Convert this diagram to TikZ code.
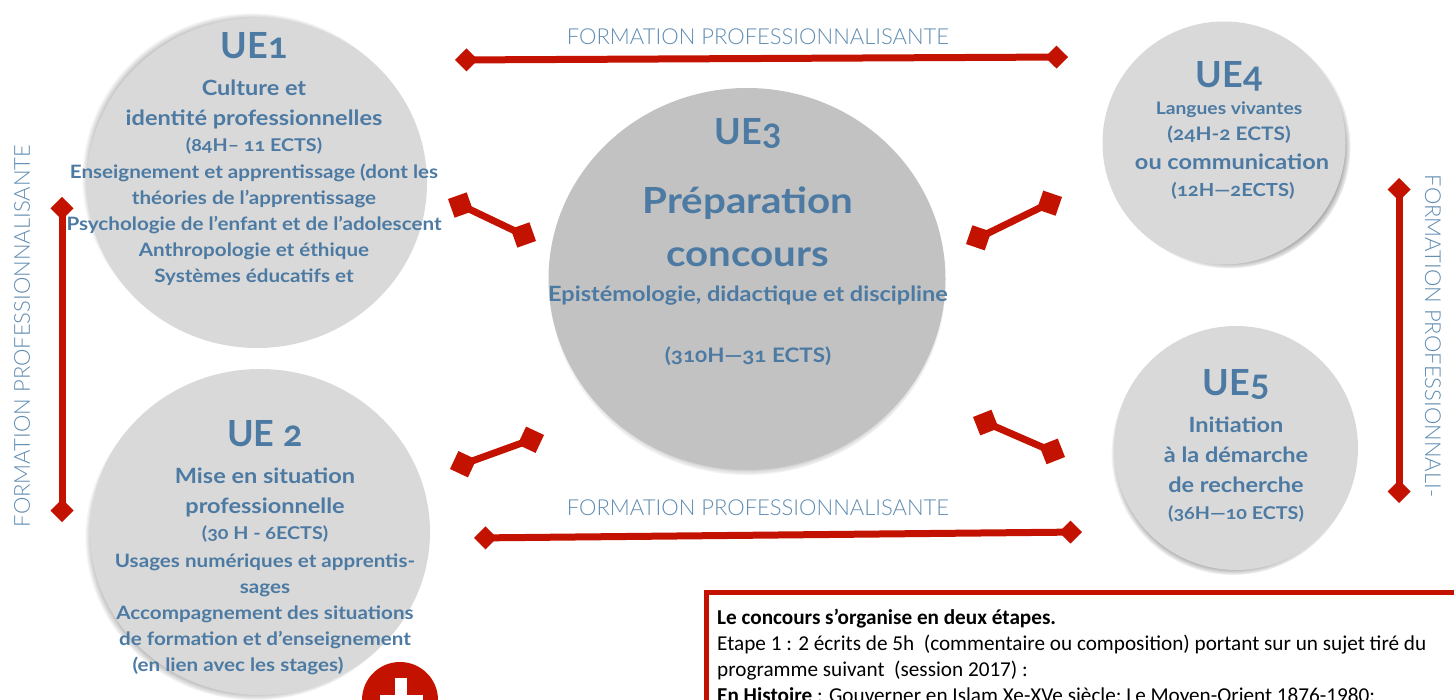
\documentclass[tikz,border=0pt]{standalone}
\usepackage{fontspec}
\setmainfont{Lato}[Numbers=OldStyle, FakeStretch=1.12]
\newfontfamily\titlefont{Lato}[Numbers=OldStyle]
\newfontfamily\boxfont{Carlito}
\newfontfamily\thinfont{Lato Light}
\usetikzlibrary{arrows.meta, shapes.geometric, shadows, fadings}
\definecolor{uered}{HTML}{C41200}
\definecolor{ueblue}{HTML}{4C7AA3}
\definecolor{uethin}{HTML}{5F8BB0}
\tikzset{
    uedisc/.style={ellipse, inner sep=0pt, fill=#1},
    uedisc/.default={black!15},
    softshadow/.style 2 args={general shadow={fill=black!85, shadow scale=1, shadow xshift=#1, shadow yshift=#2, path fading=circle with fuzzy edge 15 percent}},
    uetitle/.style={text=ueblue, font=\titlefont\bfseries\fontsize{36}{36}\selectfont},
    uehead/.style={text=ueblue, align=center, font=\bfseries\fontsize{21}{30}\selectfont},
    uehours/.style={text=ueblue, align=center, font=\bfseries\fontsize{17.6}{26}\selectfont},
    uebody/.style={text=ueblue, align=center, font=\bfseries\fontsize{18.4}{26}\selectfont},
    thinlabel/.style={text=uethin, font=\thinfont\fontsize{22}{22}\selectfont},
    redlink/.style={draw=uered, line width=7pt, {Diamond[length=23pt,width=23pt]}-{Diamond[length=23pt,width=23pt]}},
    tiltlink/.style={draw=uered, line width=7pt, {Diamond[length=28pt,width=28pt]}-{Diamond[length=28pt,width=28pt]}},
}
\begin{document}
\begin{tikzpicture}[x=1pt, y=-1pt]
    \useasboundingbox (0,0) rectangle (1454,700);
    \clip (0,0) rectangle (1454,700);
    % discs
    \node[uedisc, softshadow={-5pt}{5pt}, minimum width=340pt, minimum height=330pt] (ueA) at (257,183) {};
    \node[uedisc, softshadow={-5pt}{-5pt}, minimum width=340pt, minimum height=326pt] (ueB) at (260,532) {};
    \node[uedisc=black!24, softshadow={0pt}{-5pt}, minimum width=397pt, minimum height=382pt] (ueC) at (747,279) {};
    \node[uedisc, softshadow={5pt}{-4pt}, minimum width=243pt, minimum height=243pt] (ueD) at (1224,143) {};
    \node[uedisc, softshadow={-3pt}{-5pt}, minimum width=244pt, minimum height=244pt] (ueE) at (1236,448) {};
    % UE1
    \node[uetitle] (ueAtitle) at (254,46) {UE1};
    \node[uehead] (ueAhead) at (254,104) {Culture et\\identité professionnelles};
    \node[uehours] (ueAhours) at (254,146) {(84H– 11 ECTS)};
    \node[uebody] (ueAbody) at (254,225) {Enseignement et apprentissage (dont les\\théories de l’apprentissage\\Psychologie de l’enfant et de l’adolescent\\Anthropologie et éthique\\Systèmes éducatifs et};
    % UE2
    \node[uetitle] (ueBtitle) at (265,434) {UE 2};
    \node[uehead] (ueBhead) at (265,492) {Mise en situation\\professionnelle};
    \node[uehours] (ueBhours) at (265,534) {(30 H - 6ECTS)};
    \node[uebody] (ueBbody) at (265,601) {Usages numériques et apprentis-\\sages\\Accompagnement des situations\\de formation et d’enseignement};
    \node[uebody] (ueBstage) at (238,666) {(en lien avec les stages)};
    % UE3
    \node[uetitle] (ueCtitle) at (748,133) {UE3};
    \node[text=ueblue, align=center, font=\bfseries\fontsize{36}{53}\selectfont] (ueChead) at (748,227) {Préparation\\concours};
    \node[uehead] (ueCbody) at (748,296) {Epistémologie, didactique et discipline};
    \node[uehours, font=\bfseries\fontsize{20}{26}\selectfont] (ueChours) at (748,356) {(310H—31 ECTS)};
    % UE4
    \node[uetitle] (ueDtitle) at (1229,76) {UE4};
    \node[uehours, font=\bfseries\fontsize{17.2}{26}\selectfont] (ueDhead) at (1229,110) {Langues vivantes};
    \node[uehours, font=\bfseries\fontsize{18.6}{26}\selectfont] (ueDhours) at (1229,135) {(24H-2 ECTS)};
    \node[uehead] (ueDcom) at (1232,162) {ou communication};
    \node[uehours, font=\bfseries\fontsize{18}{26}\selectfont] (ueDcomh) at (1233,191) {(12H—2ECTS)};
    % UE5
    \node[uetitle] (ueEtitle) at (1236,385) {UE5};
    \node[uehead] (ueEhead) at (1236,455) {Initiation\\à la démarche\\de recherche};
    \node[uehours] (ueEhours) at (1236,514) {(36H—10 ECTS)};
    % links
    \coordinate (topL) at (455,60);
    \coordinate (topR) at (1068,57);
    \coordinate (botL) at (474,538);
    \coordinate (botR) at (1082,532);
    \coordinate (lefT) at (62,197);
    \coordinate (lefB) at (62,522);
    \coordinate (rigT) at (1399,178);
    \coordinate (rigB) at (1399,503);
    \draw[redlink] (topL) -- (topR);
    \draw[redlink] (botL) -- (botR);
    \draw[redlink] (lefT) -- (lefB);
    \draw[redlink] (rigT) -- (rigB);
    \coordinate (ueAout) at (448,199);
    \coordinate (ueCinA) at (536,241);
    \coordinate (ueBout) at (450,469);
    \coordinate (ueCinB) at (544,435);
    \coordinate (ueCoutD) at (966,244);
    \coordinate (ueDin) at (1062,197);
    \coordinate (ueCoutE) at (973,417);
    \coordinate (ueEin) at (1065,457);
    \draw[tiltlink] (ueAout) -- (ueCinA);
    \draw[tiltlink] (ueBout) -- (ueCinB);
    \draw[tiltlink] (ueCoutD) -- (ueDin);
    \draw[tiltlink] (ueCoutE) -- (ueEin);
    % labels
    \node[thinlabel] (labTop) at (758,37) {FORMATION PROFESSIONNALISANTE};
    \node[thinlabel] (labBot) at (758,508) {FORMATION PROFESSIONNALISANTE};
    \node[thinlabel, rotate=90] (labLef) at (22,336) {FORMATION PROFESSIONNALISANTE};
    \node[thinlabel, rotate=-90] (labRig) at (1433,336) {FORMATION PROFESSIONNALI-};
    % plus
    \node[circle, fill=uered, inner sep=0pt, minimum size=76pt] (plus) at (400,700) {};
    \fill[white] (395,678) rectangle (407,720);
    \fill[white] (380,695) rectangle (423,720);
    % concours box
    \draw[uered, line width=5pt] (1500,592) -- (706,592) -- (706,760);
    \node[anchor=north west, inner sep=0pt, align=left, font=\boxfont\fontsize{21.2}{26}\selectfont] (concours) at (717,609) {\textbf{Le concours s’organise en deux étapes.}\\Etape 1 : 2 écrits de 5h\ \ (commentaire ou composition) portant sur un sujet tiré du\\programme suivant\ \ (session 2017) :\\\textbf{En Histoire} : Gouverner en Islam Xe-XVe siècle; Le Moyen-Orient 1876-1980;};
\end{tikzpicture}
\end{document}
